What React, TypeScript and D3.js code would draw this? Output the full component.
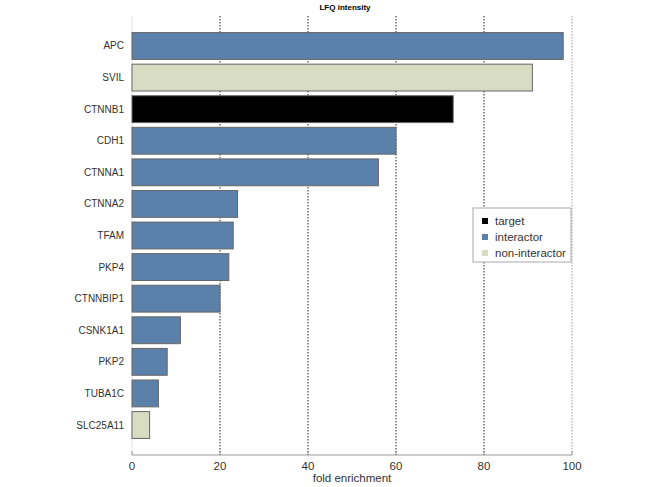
import React from 'react';
import * as d3 from 'd3';

const proteins = ['APC', 'SVIL', 'CTNNB1', 'CDH1', 'CTNNA1', 'CTNNA2', 'TFAM', 'PKP4', 'CTNNBIP1', 'CSNK1A1', 'PKP2', 'TUBA1C', 'SLC25A11'];
const enrichment = [98, 91, 73, 60, 56, 24, 23, 22, 20, 11, 8, 6, 4];
const roles = ['interactor', 'non-interactor', 'target', 'interactor', 'interactor', 'interactor', 'interactor', 'interactor', 'interactor', 'interactor', 'interactor', 'interactor', 'non-interactor'];
const xTicks = [0, 20, 40, 60, 80, 100];
const legendKeys = ['target', 'interactor', 'non-interactor'];

const FONT = 'Liberation Sans, Arial, sans-serif';

export default function App() {
  const width = 650, height = 487;
  const x = d3.scaleLinear().domain([0, 100]).range([132, 572]);
  const y = d3.scaleBand().domain(proteins).range([30.2, 440.8]).paddingInner(0.15).paddingOuter(0.075);
  const color = d3.scaleOrdinal<string, string>()
    .domain(legendKeys)
    .range(['#000000', '#5b80a9', '#d8dcc3']);

  const plotTop = 16, axisY = 455;

  return (
    <svg width={width} height={height} style={{ position: 'absolute', left: 0, top: 0, background: '#fff' }}>
      <text x={345} y={10} textAnchor="middle" fontFamily={FONT} fontSize={8} fontWeight="bold">LFQ intensity</text>

      {/* grid */}
      {xTicks.slice(1).map(t => (
        <line key={t} x1={x(t)} x2={x(t)} y1={plotTop} y2={axisY}
          stroke={t === 100 ? '#999' : '#222'} strokeWidth={1} strokeDasharray="1.5,1.5" />
      ))}
      <line x1={x(0)} x2={x(0)} y1={plotTop} y2={axisY} stroke="#e4e4e4" />

      {/* bars */}
      {proteins.map((p, i) => (
        <g key={p}>
          <rect x={x(0)} y={y(p)} width={x(enrichment[i]) - x(0)} height={y.bandwidth()}
            fill={color(roles[i])} stroke="#666" strokeWidth={1} />
          <text x={x(0) - 8} y={(y(p) as number) + y.bandwidth() / 2} dy="0.35em" textAnchor="end"
            fontFamily={FONT} fontSize={10} fill="#333">{p}</text>
        </g>
      ))}

      {/* x axis */}
      <line x1={x(0)} x2={x(100)} y1={axisY} y2={axisY} stroke="#999" />
      {xTicks.map(t => (
        <g key={t} transform={`translate(${x(t)},${axisY})`}>
          <line y1={0} y2={-4} stroke="#999" />
          <text y={15} textAnchor="middle" fontFamily={FONT} fontSize={11.5} fill="#333">{t}</text>
        </g>
      ))}
      <text x={x(50)} y={482} textAnchor="middle" fontFamily={FONT} fontSize={11.5} fill="#333">fold enrichment</text>

      {/* legend */}
      <g transform="translate(473,208)">
        <rect width={98} height={54} fill="#fff" stroke="#aaa" />
        {legendKeys.map((k, i) => (
          <g key={k} transform={`translate(9,${13 + i * 16})`}>
            <rect x={0} y={-3} width={6} height={6} fill={color(k)} />
            <text x={13} y={0} dy="0.35em" fontFamily={FONT} fontSize={11.5} fill="#333">{k}</text>
          </g>
        ))}
      </g>
    </svg>
  );
}
